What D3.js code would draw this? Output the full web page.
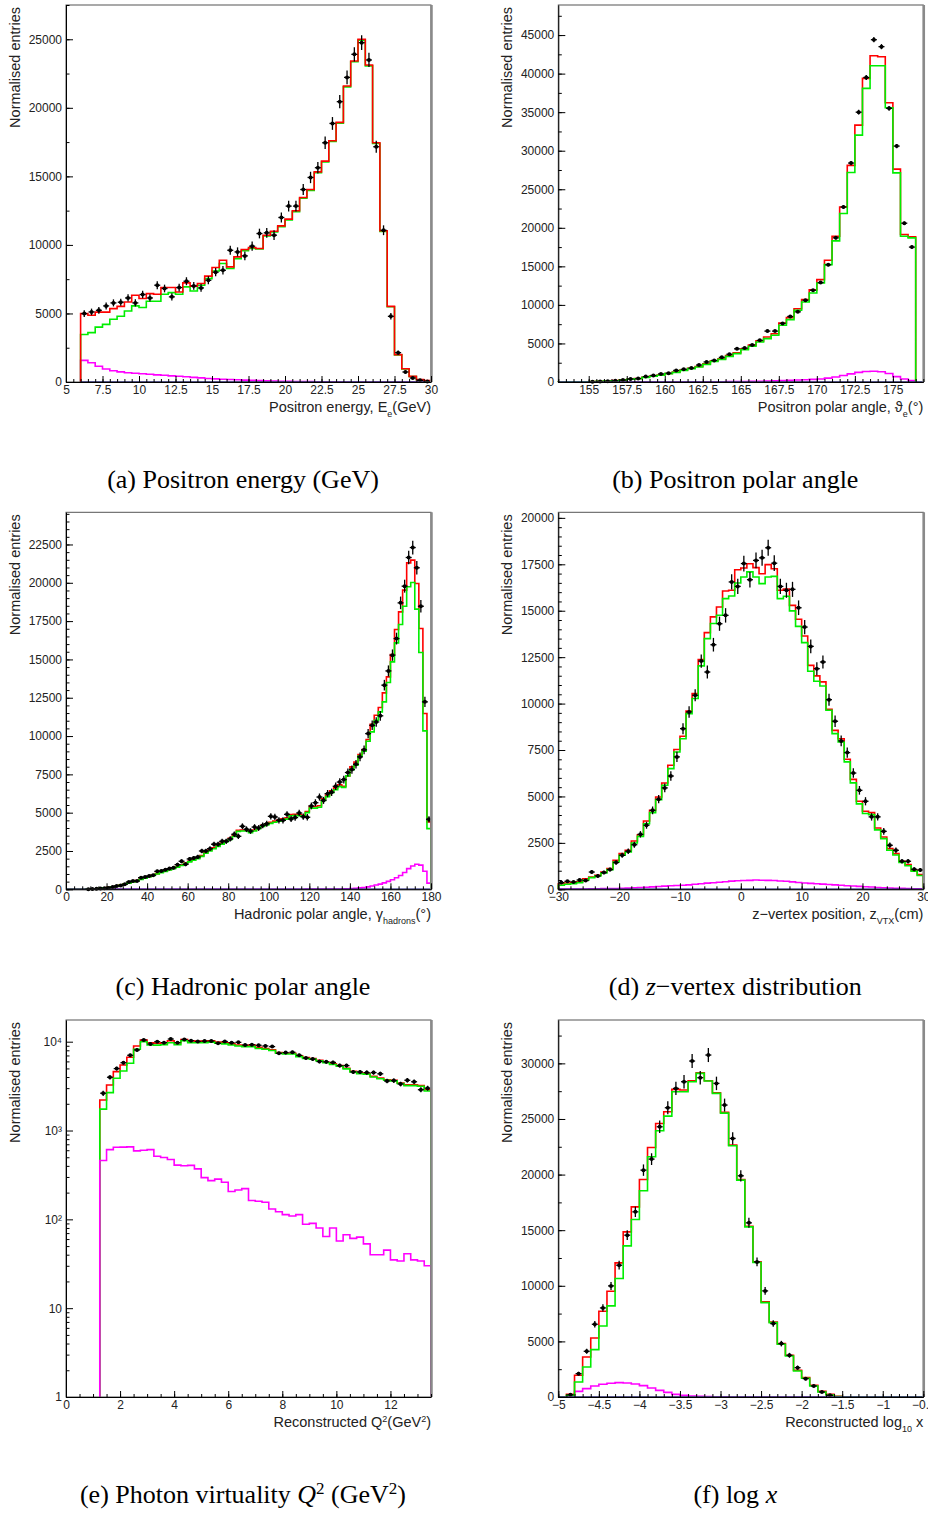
<!DOCTYPE html>
<html>
<head>
<meta charset="utf-8">
<script src="https://cdn.jsdelivr.net/npm/d3@7"></script>
<style>
body { margin: 0; background: #fff; }
svg text { font-family: "Liberation Sans", Arial, sans-serif; fill: #222; }
</style>
</head>
<body>
<svg id="chart" width="928" height="1513"></svg>
<script>
// (a) positron energy, bins of 0.5 GeV from 6 GeV
const aRed = [4990,4870,5100,5100,5350,5520,5840,6330,6090,6450,6400,6890,6890,6570,7230,6990,7180,7720,8350,8880,8400,9130,9660,9810,9740,10710,11000,11390,11880,12490,13460,14040,15330,16110,17600,18940,21590,23420,25000,23120,17450,11030,5520,2000,970,410,170,100];
const aGreen = [3460,3600,4000,4200,4580,4800,5180,5550,5430,5890,5890,6400,6520,6400,6940,6640,7060,7540,8100,8640,8280,9000,9570,9740,9700,10650,10950,11330,11820,12430,13400,13980,15270,16050,17540,18880,21530,23360,24940,23060,17400,10990,5490,1980,960,400,165,95];
const aBkg = [1580,1400,1150,950,820,740,680,640,600,560,520,490,450,420,380,340,300,260,230,200,180,160,140,120,100,80,70,60,50,40,30,25,20,15,10,8,5,4,3,2,1,0,0,0,0,0,0,0];
const aData = [4990,5110,5230,5550,5770,5820,6130,5770,6380,6130,7060,6820,6210,6890,7350,7010,6860,7420,8010,8150,9610,9490,9200,9910,10830,10880,10710,12000,12830,12830,14040,14920,15630,17450,18860,20450,22220,23900,24750,23490,17160,11070,4790,2140,730,290,120,40];
const aXTicks = [5,7.5,10,12.5,15,17.5,20,22.5,25,27.5,30];
const aYTicks = [0,5000,10000,15000,20000,25000];

// (b) positron polar angle, bins of 0.5 deg from 153 deg
const bRed = [5,10,20,40,60,90,130,180,270,360,450,620,760,900,1110,1290,1550,1780,2010,2360,2760,3020,3420,3790,4320,4780,5330,5830,6250,7650,8350,9500,10700,11950,13280,15790,18900,22700,28100,33320,39380,42320,42190,36220,27610,19130,18820];
const bGreen = [5,10,20,40,60,90,130,170,260,350,430,600,740,870,1080,1250,1510,1730,1950,2290,2680,2940,3330,3680,4200,4630,5190,5630,6060,7360,8090,9300,10380,11550,12850,15230,18300,21850,27170,32020,38080,41020,41020,35570,27130,18910,18690];
const bBkg = [0,0,0,0,0,0,0,5,5,5,10,10,10,15,15,20,20,25,25,30,30,35,45,55,70,85,100,120,150,180,215,250,290,340,390,500,650,850,1050,1250,1370,1390,1330,1100,700,380,180];
const bData = [0,0,0,0,30,60,100,150,250,400,450,700,850,1050,1150,1500,1650,1800,2200,2600,2800,3200,3600,4300,4400,4800,5400,6600,6600,7600,8500,9100,10600,11900,12900,15200,18700,22700,28400,35000,39500,44400,43500,35500,30600,20600,17500];
const bXTicks = [155,157.5,160,162.5,165,167.5,170,172.5,175];
const bYTicks = [0,5000,10000,15000,20000,25000,30000,35000,40000,45000];

// (c) hadronic polar angle, bins of 2 deg from 0
const cRed = [0,0,0,0,5,10,20,40,60,95, 125,165,210,270,340,410,495,575,660,750, 840,925,1020,1110,1200,1290,1380,1480,1600,1720, 1830,1940,2050,2200,2400,2560,2710,2860,3010,3170, 3320,3520,3850,3870,3860,3770,3870,4020,4170,4270, 4370,4450,4520,4600,4660,4880,4900,4880,4830,5080, 5400,5400,5450,5900,6150,6420,6620,6820,6720,7400, 7990,8310,8790,9120,9770,10770,11360,11860,12820,13860, 15320,16950,18100,19520,21300,21480,19950,17020,11470,4400];
const cGreen = [0,0,0,0,5,10,20,40,60,90, 120,160,200,260,330,400,480,560,640,730, 820,900,1000,1080,1170,1260,1350,1450,1560,1680, 1790,1900,2000,2150,2350,2500,2650,2800,2950,3100, 3250,3450,3780,3800,3800,3700,3800,3950,4100,4200, 4300,4380,4450,4520,4580,4800,4820,4800,4750,5000, 5300,5300,5350,5800,6050,6300,6500,6700,6650,7400, 7810,8090,8700,9010,9660,10270,11030,11580,12230,13490, 14840,16080,17280,18470,19740,20020,18280,15450,10340,3960];
const cBkg = [0,0,0,0,0,0,0,0,0,0, 0,0,0,0,0,0,0,0,0,0, 0,0,0,0,0,0,0,0,0,0, 0,0,0,0,0,0,0,0,0,0, 0,0,0,0,0,0,0,0,0,0, 0,0,0,5,5,5,5,5,5,10, 10,10,10,15,15,10,15,20,30,40, 55,70,90,110,160,220,280,340,420,520, 620,750,900,1100,1350,1520,1630,1580,1180,400];
const cData = [0,0,0,0,0,10,20,30,50,70, 90,150,220,240,330,480,540,540,760,800, 870,920,1170,1190,1280,1350,1410,1610,1830,1630, 1980,2040,2110,2500,2500,2650,2940,2940,3130,3130, 3290,3590,3460,4110,3920,3800,4060,4000,4170,4280, 4760,4720,4500,4500,4890,4590,4680,4980,4740,4700, 5440,5650,6020,5800,6240,6330,6720,7000,7160,7620, 7810,8160,8640,9100,10160,10700,10920,11320,13320,14250, 15280,16360,18690,19780,21650,22300,20980,18470,12230,4570];
const cXTicks = [0,20,40,60,80,100,120,140,160,180];
const cYTicks = [0,2500,5000,7500,10000,12500,15000,17500,20000,22500];

// (d) z-vertex, bins of 1 cm from -30 cm
const dRed = [300,340,360,410,560,660,760,930,1120,1560, 1920,2100,2600,2940,3680,4250,4970,5720,6680,7530, 8240,9600,10540,12370,13820,14670,15200,16060,16100,17210, 17300,17530,17320,16990,17480,17260,16100,16170,15290,14540, 13640,12060,11490,11170,9690,8560,8110,7000,5920,4740, 4200,4130,3300,2820,2190,1920,1510,1330,1020,790];
const dGreen = [215,270,300,360,485,630,720,880,1060,1470, 1830,2010,2490,2850,3530,4130,4830,5600,6500,7390, 8110,9460,10270,12030,13500,14310,14760,15650,15790,16490, 16820,17090,16820,16460,16820,16850,15650,15780,14990,14160, 13280,11740,11200,10950,9640,8380,7930,6860,5730,4600, 4080,4020,3200,2730,2100,1850,1450,1270,980,740];
const dBkg = [10,12,15,18,20,25,30,35,40,45, 55,65,80,95,110,130,150,170,190,205, 215,240,270,300,330,350,380,410,440,460, 470,480,500,490,480,470,450,430,400,370, 340,320,300,280,260,240,215,195,175,155, 140,120,100,85,70,60,50,40,30,25];
const dData = [360,430,395,500,470,930,720,900,1060,1440, 1830,2050,2400,2960,3450,4250,4850,5460,6100,7130, 8650,9550,10450,12290,11700,13170,14300,14750,16550,16310, 17540,16670,17710,17850,18390,17560,16310,16100,16150,15160, 14120,13080,11880,12240,10210,9050,7990,7360,6260,5330, 4740,3900,3900,3120,2370,2100,1510,1510,1080,1040];
const dXTicks = [-30,-20,-10,0,10,20,30];
const dYTicks = [0,2500,5000,7500,10000,12500,15000,17500,20000];

// (e) Q2, bins of 0.25 GeV2 from 1.25 GeV2 (log scale)
const eRed = [2210,3260,4600,5470,6670,8950,10450,9750,9600,9750, 10250,9750,10600,10250,10150,10150,10250,9900,9750,9450, 9180,9020,9180,8660,8370,8080,7540,7400,7400,6920, 6620,6470,6180,5880,5630,5380,5020,4630,4430,4360, 4070,3900,3730,3680,3430,3280,3280,3200,2880];
const eGreen = [1740,2670,3870,4680,5710,8210,10000,9180,9150,9250, 9750,9250,10250,9750,9750,9750,9900,9600,9450,9180, 8960,8810,8810,8370,8230,7950,7400,7280,7280,6800, 6470,6370,6090,5790,5540,5300,4940,4560,4360,4300, 4010,3830,3680,3620,3380,3200,3200,3150,2790];
const eBkg = [459,610,649,650,655,590,600,610,514,497, 471,408,402,405,370,295,273,284,262,206, 214,222,163,160,156,131,122,113,109,113, 88,90,80,64,80,57,67,61,63,53, 40,40,45,35,34,41,35,34,30];
const eData = [2630,3980,4980,5800,7030,8070,10450,9420,10000,9750, 10720,9750,10600,10250,10050,10150,10150,9600,10050,9750, 9830,9180,9250,9110,8960,8810,7400,7540,7610,7030, 6550,6370,5980,5930,5840,5380,5380,4570,4570,4490, 4490,4350,3610,3650,3340,3680,3540,2880,3000];
const eXTicks = [0,2,4,6,8,10,12];
const eYTicks = [1,10,100,1000,10000];
const eYLabels = ["1","10","10\u00b2","10\u00b3","10\u2074"];

// (f) log10 x, bins of 0.1 from -5
const fRed = [0,240,1950,3600,5310,7710,9510,12060,14850,17100, 19560,22440,24600,25650,27660,27600,28440,29160,28440,27360, 25590,22650,19560,15360,12150,8550,6750,4800,3750,2400, 1740,1050,510,240,60,0,0,0,0,0, 0,0,0,0,0];
const fGreen = [0,150,1350,2700,4260,6390,8190,10650,13590,15960, 18540,21600,23940,25260,27450,27450,28350,29100,28410,27300, 25530,22590,19500,15300,12090,8490,6690,4740,3690,2340, 1680,990,450,180,40,0,0,0,0,0, 0,0,0,0,0];
const fBkg = [0,0,510,750,990,1140,1230,1290,1260,1170, 1020,810,600,420,240,150,90,60,40,20, 10,0,0,0,0,0,0,0,0,0, 0,0,0,0,0,0,0,0,0,0, 0,0,0,0,0];
const fData = [0,200,2100,4110,6540,8010,9990,11850,14550,16650, 20400,21390,24300,26010,27750,28350,30210,28710,30750,28200, 26250,23250,19890,15660,12150,9540,6600,4800,3750,2640, 1650,990,450,150,0,0,0,0,0,0, 0,0,0,0,0];
const fXTicks = [-5,-4.5,-4,-3.5,-3,-2.5,-2,-1.5,-1,-0.5];
const fYTicks = [0,5000,10000,15000,20000,25000,30000];

const W = 365, H = 377;

const panels = [
	{ left: 66, top: 5, xDomain: [5, 30], yDomain: [0, 27500], binStart: 6, binWidth: 0.5,
	  red: aRed, green: aGreen, bkg: aBkg, data: aData, errK: 3.4, redOnTop: true,
	  xTicks: aXTicks, xMinor: 0.5, yTicks: aYTicks, yMinor: 2500,
	  xTitle: [{ t: "Positron energy, E" }, { t: "e", sub: true }, { t: "(GeV)" }],
	  caption: [{ t: "(a) Positron energy (GeV)" }] },
	{ left: 558.3, top: 5, xDomain: [153, 177], yDomain: [0, 48900], binStart: 153, binWidth: 0.5,
	  red: bRed, green: bGreen, bkg: bBkg, data: bData, errK: 1.6,
	  xTicks: bXTicks, xMinor: 0.5, yTicks: bYTicks, yMinor: 2500,
	  xTitle: [{ t: "Positron polar angle, \u03d1" }, { t: "e", sub: true }, { t: "(\u00b0)" }],
	  caption: [{ t: "(b) Positron polar angle" }] },
	{ left: 66, top: 512.3, xDomain: [0, 180], yDomain: [0, 24600], binStart: 0, binWidth: 2,
	  red: cRed, green: cGreen, bkg: cBkg, data: cData, errK: 3.0,
	  xTicks: cXTicks, xMinor: 4, yTicks: cYTicks, yMinor: 500,
	  xTitle: [{ t: "Hadronic polar angle, \u03b3" }, { t: "hadrons", sub: true }, { t: "(\u00b0)" }],
	  caption: [{ t: "(c) Hadronic polar angle" }] },
	{ left: 558.3, top: 512.3, xDomain: [-30, 30], yDomain: [0, 20300], binStart: -30, binWidth: 1,
	  red: dRed, green: dGreen, bkg: dBkg, data: dData, errK: 3.2,
	  xTicks: dXTicks, xMinor: 2, yTicks: dYTicks, yMinor: 500,
	  xTitle: [{ t: "z\u2212vertex position, z" }, { t: "VTX", sub: true }, { t: "(cm)" }],
	  caption: [{ t: "(d) " }, { t: "z", it: true }, { t: "\u2212vertex distribution" }] },
	{ left: 66, top: 1020, xDomain: [0, 13.5], yDomain: [1, 17550], log: true, binStart: 1.25, binWidth: 0.25,
	  red: eRed, green: eGreen, bkg: eBkg, data: eData, errK: 3.5, bkgOnTop: true,
	  xTicks: eXTicks, xMinor: 0.5, yTicks: eYTicks, yLabels: eYLabels,
	  xTitle: [{ t: "Reconstructed Q" }, { t: "2", sup: true }, { t: "(GeV" }, { t: "2", sup: true }, { t: ")" }],
	  caption: [{ t: "(e) Photon virtuality " }, { t: "Q", it: true }, { t: "2", sup: true }, { t: " (GeV" }, { t: "2", sup: true }, { t: ")" }] },
	{ left: 558.3, top: 1020, xDomain: [-5, -0.5], yDomain: [0, 33900], binStart: -5, binWidth: 0.1,
	  red: fRed, green: fGreen, bkg: fBkg, data: fData, errK: 3.6,
	  xTicks: fXTicks, xMinor: 0.1, yTicks: fYTicks, yMinor: 2500,
	  xTitle: [{ t: "Reconstructed log" }, { t: "10", sub: true }, { t: " x" }],
	  caption: [{ t: "(f) log " }, { t: "x", it: true }] }
];

const svg = d3.select("#chart");

function minorTicks(domain, step) {
	const first = Math.ceil(domain[0] / step - 1e-6);
	const out = [];
	for (let i = first; i * step <= domain[1] + 1e-9; i++) out.push(+(i * step).toFixed(4));
	return out;
}

function appendRich(text, parts, smallSize) {
	parts.forEach(s => {
		const ts = text.append("tspan").text(s.t);
		if (s.it) ts.attr("font-style", "italic");
		if (s.sub) ts.attr("baseline-shift", "sub").attr("font-size", smallSize);
		if (s.sup) ts.attr("baseline-shift", "super").attr("font-size", smallSize);
	});
}

function drawPanel(p) {
	const g = svg.append("g").attr("transform", `translate(${p.left},${p.top})`);
	const x = d3.scaleLinear().domain(p.xDomain).range([0, W]);
	const y = (p.log ? d3.scaleLog() : d3.scaleLinear()).domain(p.yDomain).range([H, 0]);
	const base = p.yDomain[0];
	const yv = v => y(Math.max(v, base));
	const edge = i => x(p.binStart + i * p.binWidth);

	// step outline of a histogram, closed down to the baseline at both ends
	function histPath(vals) {
		const pts = [[edge(0), yv(base)]];
		vals.forEach((v, i) => { pts.push([edge(i), yv(v)], [edge(i + 1), yv(v)]); });
		pts.push([edge(vals.length), yv(base)]);
		return d3.line()(pts);
	}

	const hist = (vals, colour) => g.append("path").attr("d", histPath(vals))
		.attr("fill", "none").attr("stroke", colour).attr("stroke-width", 1.6);

	if (!p.bkgOnTop) hist(p.bkg, "#ff00ff");
	if (p.redOnTop) { hist(p.green, "#00ee00"); hist(p.red, "#ff0000"); }
	else { hist(p.red, "#ff0000"); hist(p.green, "#00ee00"); }
	if (p.bkgOnTop) hist(p.bkg, "#ff00ff");

	if (!p.log) {
		g.append("line").attr("x1", edge(0)).attr("x2", x(p.xDomain[1]))
			.attr("y1", y(0)).attr("y2", y(0)).attr("stroke", "#1a1a9a").attr("stroke-width", 1.5);
	}

	// data points with statistical error bars
	const pts = p.data.map((v, i) => ({ cx: x(p.binStart + (i + 0.5) * p.binWidth), v: v })).filter(d => d.v > 0);
	const dg = g.append("g");
	dg.selectAll(".ev").data(pts).join("line")
		.attr("x1", d => d.cx).attr("x2", d => d.cx)
		.attr("y1", d => yv(d.v + p.errK * Math.sqrt(d.v)))
		.attr("y2", d => yv(d.v - p.errK * Math.sqrt(d.v)))
		.attr("stroke", "#000").attr("stroke-width", 1.3);
	dg.selectAll(".eh").data(pts).join("line")
		.attr("x1", d => d.cx - 3).attr("x2", d => d.cx + 3)
		.attr("y1", d => yv(d.v)).attr("y2", d => yv(d.v))
		.attr("stroke", "#000").attr("stroke-width", 1.3);
	dg.selectAll("circle").data(pts).join("circle")
		.attr("cx", d => d.cx).attr("cy", d => yv(d.v)).attr("r", 2).attr("fill", "#000");

	// frame
	g.append("rect").attr("width", W).attr("height", H).attr("fill", "none").attr("stroke", "#555").attr("stroke-width", 1);
	g.append("line").attr("x1", W + 0.5).attr("x2", W + 0.5).attr("y1", 0).attr("y2", H)
		.attr("stroke", "#8a8a8a").attr("stroke-width", 2.5);

	// axes, ticks pointing into the frame
	const fmt = d => String(d).replace("-", "\u2212");
	const xAxis = g.append("g").attr("transform", `translate(0,${H})`)
		.call(d3.axisBottom(x).tickValues(p.xTicks).tickFormat(fmt).tickSize(-6).tickSizeOuter(0).tickPadding(3));
	g.append("g").attr("transform", `translate(0,${H})`)
		.call(d3.axisBottom(x).tickValues(minorTicks(p.xDomain, p.xMinor)).tickFormat("").tickSize(-3).tickSizeOuter(0))
		.select(".domain").remove();

	let yMinorVals;
	if (p.log) {
		yMinorVals = [];
		p.yTicks.forEach(dec => d3.range(2, 10).forEach(k => { if (k * dec < p.yDomain[1]) yMinorVals.push(k * dec); }));
	} else {
		yMinorVals = minorTicks(p.yDomain, p.yMinor);
	}
	const yFmt = p.yLabels ? (d, i) => p.yLabels[i] : d => d;
	const yAxis = g.append("g")
		.call(d3.axisLeft(y).tickValues(p.yTicks).tickFormat(yFmt).tickSize(-7).tickSizeOuter(0).tickPadding(4));
	g.append("g")
		.call(d3.axisLeft(y).tickValues(yMinorVals).tickFormat("").tickSize(-3.5).tickSizeOuter(0))
		.select(".domain").remove();

	[xAxis, yAxis].forEach(a => {
		a.attr("font-size", 12).attr("font-family", "Liberation Sans, Arial, sans-serif");
		a.selectAll("text").attr("fill", "#222");
		a.select(".domain").attr("stroke", "#000");
	});

	// axis titles
	const xt = g.append("text").attr("x", W).attr("y", H + 29.5).attr("text-anchor", "end").attr("font-size", 14.5);
	appendRich(xt, p.xTitle, 9);
	g.append("text").attr("transform", `translate(-46,2) rotate(-90)`).attr("text-anchor", "end")
		.attr("font-size", 14.5).text("Normalised entries");

	// caption below the panel
	const cap = svg.append("text").attr("x", p.left + 177).attr("y", p.top + 483)
		.attr("text-anchor", "middle").attr("font-size", 26)
		.style("font-family", "'Liberation Serif', 'Times New Roman', serif").style("fill", "#000");
	appendRich(cap, p.caption, 17);
}

panels.forEach(drawPanel);
</script>
</body>
</html>
